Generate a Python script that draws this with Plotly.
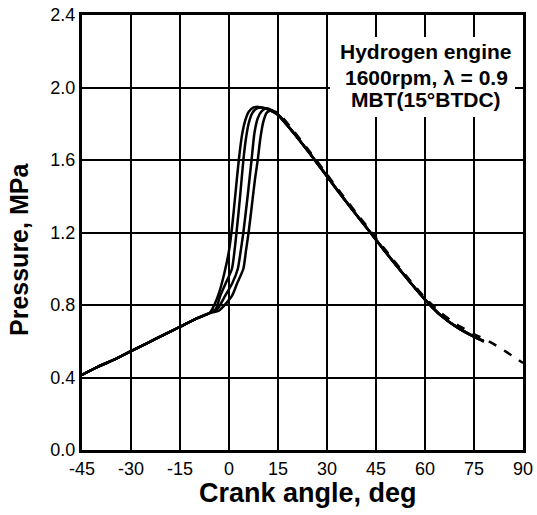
import plotly.graph_objects as go

# ---- data ----
compression_deg = [-45, -40, -35, -30, -25, -20, -15, -10, -6]
compression_p = [0.415, 0.46, 0.50, 0.545, 0.59, 0.635, 0.68, 0.725, 0.755]

rise_a_deg = [-4.5, -3, -1.5, 0, 1, 2, 3, 4, 5, 6, 7.5, 9, 11, 13]
rise_a_p = [0.80, 0.87, 0.97, 1.10, 1.24, 1.42, 1.60, 1.74, 1.82, 1.865, 1.89, 1.893, 1.885, 1.87]
rise_b_deg = [-4, -2.7, -1, 0.9, 2.3, 3.4, 4.4, 5.2, 6.0, 7.0, 8.5, 10, 12, 13.5]
rise_b_p = [0.78, 0.85, 0.92, 1.0, 1.2, 1.4, 1.6, 1.72, 1.80, 1.855, 1.885, 1.89, 1.88, 1.865]
rise_c_deg = [-3.5, -1.2, 1, 2.7, 3.6, 4.4, 5.7, 6.9, 7.8, 8.8, 10, 11.5, 13, 14]
rise_c_p = [0.78, 0.85, 0.92, 1.0, 1.1, 1.2, 1.4, 1.6, 1.75, 1.83, 1.87, 1.885, 1.875, 1.862]
rise_d_deg = [-3, 0.9, 2.5, 4.4, 5.2, 6.0, 7.0, 8.0, 8.8, 9.6, 10.5, 11.5, 13, 14.5]
rise_d_p = [0.77, 0.85, 0.92, 1.0, 1.1, 1.2, 1.35, 1.5, 1.6, 1.72, 1.81, 1.86, 1.875, 1.86]

expansion_deg = [15, 20, 25, 30, 35, 40, 45, 50, 55, 60, 65, 70, 75, 78]
expansion_p = [1.85, 1.745, 1.63, 1.51, 1.39, 1.275, 1.16, 1.045, 0.935, 0.83, 0.74, 0.675, 0.625, 0.60]

dashed_deg = [12, 15, 20, 25, 30, 35, 40, 45, 50, 55, 60, 65, 70, 75, 80, 85, 90]
dashed_p = [1.875, 1.86, 1.755, 1.64, 1.52, 1.40, 1.285, 1.17, 1.055, 0.945, 0.84, 0.755, 0.69, 0.64, 0.595, 0.54, 0.48]

x_ticks = [-45, -30, -15, 0, 15, 30, 45, 60, 75, 90]
y_ticks = [0.0, 0.4, 0.8, 1.2, 1.6, 2.0, 2.4]

note_lines = ["Hydrogen engine", "1600rpm, λ = 0.9", "MBT(15°BTDC)"]

# ---- figure ----
fig = go.Figure()
for rd, rp in [(rise_a_deg, rise_a_p), (rise_b_deg, rise_b_p),
               (rise_c_deg, rise_c_p), (rise_d_deg, rise_d_p)]:
    fig.add_trace(go.Scatter(
        x=compression_deg + rd + expansion_deg,
        y=compression_p + rp + expansion_p,
        mode="lines", line=dict(color="black", width=2.5, shape="spline", smoothing=0.6),
        showlegend=False, hoverinfo="skip"))

fig.add_trace(go.Scatter(
    x=dashed_deg, y=dashed_p, mode="lines",
    line=dict(color="black", width=2.5, dash="dash", shape="spline", smoothing=0.6),
    showlegend=False, hoverinfo="skip"))

font_family = "Liberation Sans, Arial, sans-serif"

fig.update_layout(
    width=537, height=515,
    margin=dict(l=82, r=14, t=15, b=65, autoexpand=False),
    paper_bgcolor="white", plot_bgcolor="white",
    font=dict(family=font_family, color="black", size=18),
    xaxis=dict(range=[-45, 90], tickvals=x_ticks, ticktext=[str(v) for v in x_ticks],
               showgrid=True, gridcolor="black", gridwidth=2, zeroline=False,
               showline=True, linecolor="black", linewidth=3, mirror=True,
               ticks="", automargin=False, ticklabeloverflow="allow",
               tickfont=dict(size=18, color="black")),
    yaxis=dict(range=[0, 2.4], tickvals=y_ticks, ticktext=[f"{v:.1f}" for v in y_ticks],
               showgrid=True, gridcolor="black", gridwidth=2, zeroline=False,
               showline=True, linecolor="black", linewidth=3, mirror=True,
               ticks="", automargin=False, ticklabeloverflow="allow",
               tickfont=dict(size=18, color="black")),
)

# white box behind the note
fig.add_shape(type="rect", xref="paper", yref="paper",
              x0=(330 - 82) / 441, x1=(515 - 82) / 441,
              y0=(450 - 117) / 435, y1=(450 - 37) / 435,
              fillcolor="white", line=dict(width=0), layer="above")

for line, py in zip(note_lines, [52, 77, 100]):
    fig.add_annotation(text="<b>" + line + "</b>", xref="paper", yref="paper",
                       x=(426 - 82) / 441, y=(450 - py) / 435, showarrow=False,
                       xanchor="center", yanchor="middle",
                       font=dict(size=21, family=font_family, color="black"))

fig.add_annotation(text="<b>Crank angle, deg</b>", xref="paper", yref="paper",
                   x=(308 - 82) / 441, y=(450 - 493) / 435, showarrow=False,
                   xanchor="center", yanchor="middle",
                   font=dict(size=27, family=font_family, color="black"))
fig.add_annotation(text="<b>Pressure, MPa</b>", xref="paper", yref="paper",
                   x=(19 - 82) / 441, y=(450 - 250) / 435, showarrow=False,
                   textangle=-90, xanchor="center", yanchor="middle",
                   font=dict(size=25, family=font_family, color="black"))

# remove the browser's default 8px page margin so the figure sits at the window origin
fig.write_html("out.html",
               config={"displayModeBar": False},
               post_script="document.body.style.margin='0px';document.body.style.overflow='hidden';")
